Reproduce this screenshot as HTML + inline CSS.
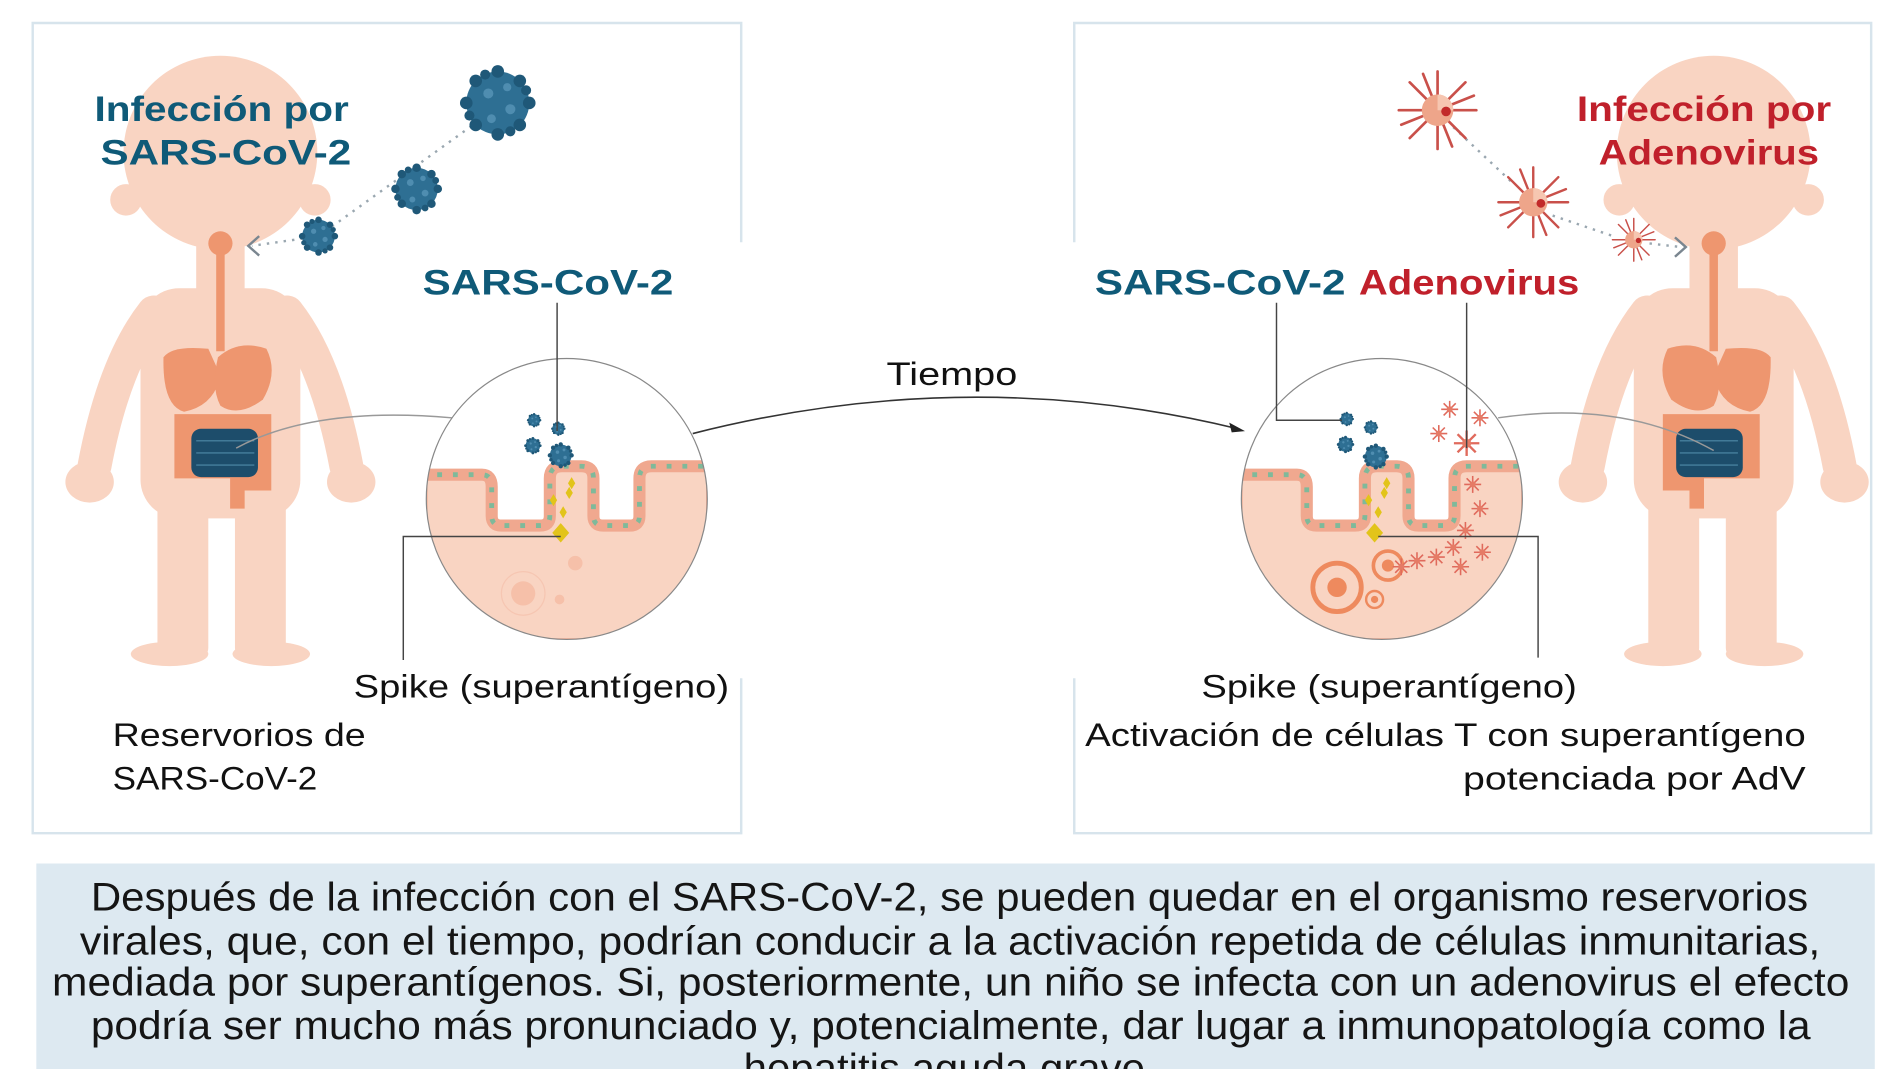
<!DOCTYPE html>
<html><head><meta charset="utf-8"><style>
html,body{margin:0;padding:0;background:#fff;}
svg{display:block;}
text{font-family:"Liberation Sans",sans-serif;}
</style></head><body>
<svg width="1899" height="1069" viewBox="0 0 1568 882.7" preserveAspectRatio="none" xmlns="http://www.w3.org/2000/svg">
<defs>
<g id="cov">
  <circle r="10" fill="#2e6f93"/>
  <g fill="#1f5878">
    <circle cx="0" cy="-10" r="2"/><circle cx="0" cy="10" r="2"/><circle cx="-10" cy="0" r="2"/><circle cx="10" cy="0" r="2"/>
    <circle cx="7" cy="7" r="2"/><circle cx="-7" cy="7" r="2"/><circle cx="7" cy="-7" r="2"/><circle cx="-7" cy="-7" r="2"/>
    <circle cx="-4" cy="-9" r="1.6"/><circle cx="4" cy="9" r="1.6"/><circle cx="9" cy="-4" r="1.6"/><circle cx="-9" cy="4" r="1.6"/>
  </g>
  <g fill="#4f8db0"><circle cx="-3" cy="-3" r="1.6"/><circle cx="4" cy="2" r="1.6"/><circle cx="-2" cy="5" r="1.4"/><circle cx="3" cy="-5" r="1.3"/></g>
</g>
<g id="adv">
  <g stroke="#c9504a" stroke-width="2.2" stroke-linecap="round">
    <line x1="0" y1="-32" x2="0" y2="32"/><line x1="-32" y1="0" x2="32" y2="0"/>
    <line x1="-23" y1="-23" x2="23" y2="23"/><line x1="-23" y1="23" x2="23" y2="-23"/>
    <line x1="-12" y1="-30" x2="12" y2="30"/><line x1="-30" y1="12" x2="30" y2="-12"/>
  </g>
  <circle r="13" fill="#eea58a"/>
  <path d="M0,-13 A13,13 0 0 1 13,0 L0,0Z" fill="#f6c6b1"/>
  <circle cx="7" cy="1" r="4" fill="#c22a2a"/>
</g>
<g id="star">
  <g stroke="#e06a5c" stroke-width="1.3"><line x1="0" y1="-7" x2="0" y2="7"/><line x1="-7" y1="0" x2="7" y2="0"/><line x1="-5" y1="-5" x2="5" y2="5"/><line x1="-5" y1="5" x2="5" y2="-5"/></g>
  <circle r="2.5" fill="#e57b66"/>
</g>
<g id="child">
  <g fill="#f9d4c2">
    <circle cx="0" cy="-4" r="80"/>
    <circle cx="-78" cy="35" r="13"/><circle cx="78" cy="35" r="13"/>
    <rect x="-20" y="60" width="40" height="60"/>
    <rect x="-66" y="108" width="132" height="190" rx="32"/>
    <rect x="-52" y="250" width="42" height="165" rx="10"/>
    <rect x="12" y="250" width="42" height="165" rx="10"/>
    <ellipse cx="-42" cy="410" rx="32" ry="10"/>
    <ellipse cx="42" cy="410" rx="32" ry="10"/>
    <ellipse cx="-108" cy="268" rx="20" ry="17"/>
    <ellipse cx="108" cy="268" rx="20" ry="17"/>
  </g>
  <g fill="none" stroke="#f9d4c2" stroke-width="28" stroke-linecap="round">
    <path d="M-55,128 Q-88,170 -104,255"/><path d="M55,128 Q88,170 104,255"/>
  </g>
  <line x1="0" y1="71" x2="0" y2="160" stroke="#ee966f" stroke-width="7"/>
  <circle cx="0" cy="71" r="10" fill="#ee966f"/>
  <path d="M-47,165 Q-40,155 -10,158 L0,180 Q-5,205 -30,210 Q-48,205 -47,165Z" fill="#ee966f"/>
  <path d="M-2,165 Q15,150 38,158 Q48,178 35,200 Q15,215 0,205 Q-8,190 -2,165Z" fill="#ee966f"/>
  <path d="M-38,212 L42,212 L42,275 L20,275 L20,290 L8,290 L8,265 L-38,265Z" fill="#ee966f"/>
  <rect x="-24" y="224" width="55" height="40" rx="8" fill="#1d4d6b"/>
  <g stroke="#4f8aa8" stroke-width="1"><line x1="-20" y1="234" x2="28" y2="234"/><line x1="-20" y1="244" x2="28" y2="244"/><line x1="-20" y1="254" x2="28" y2="254"/></g>
</g>
</defs>

<g fill="none" stroke="#d7e4ec" stroke-width="2">
  <path d="M612,200 L612,19 L27,19 L27,688 L612,688 L612,560"/>
  <path d="M887,200 L887,19 L1545,19 L1545,688 L887,688 L887,560"/>
</g>

<use href="#child" transform="translate(182,130)"/>
<use href="#child" transform="translate(1415,130) scale(-1,1)"/>

<text x="78" y="100" font-size="29" font-weight="bold" fill="#0f5a78" textLength="210" lengthAdjust="spacingAndGlyphs">Infección por</text>
<text x="83" y="136" font-size="29" font-weight="bold" fill="#0f5a78" textLength="207" lengthAdjust="spacingAndGlyphs">SARS-CoV-2</text>

<path d="M395,100 L270,190 M250,197 L208,203" stroke="#9aa7b0" stroke-width="2" stroke-dasharray="2 5" fill="none"/>
<path d="M214,195 L205,203 L214,211" stroke="#7a8690" stroke-width="2" fill="none"/>
<use href="#cov" transform="translate(411,85) scale(2.6)"/>
<use href="#cov" transform="translate(344,156) scale(1.75)"/>
<use href="#cov" transform="translate(263,195) scale(1.35)"/>

<text x="1302" y="100" font-size="29" font-weight="bold" fill="#c0202b" textLength="210" lengthAdjust="spacingAndGlyphs">Infección por</text>
<text x="1320" y="136" font-size="29" font-weight="bold" fill="#c0202b" textLength="182" lengthAdjust="spacingAndGlyphs">Adenovirus</text>
<path d="M1200,105 L1250,152 M1282,178 L1335,196 M1362,201 L1388,204" stroke="#9aa7b0" stroke-width="2" stroke-dasharray="2 5" fill="none"/>
<path d="M1383,196 L1392,204 L1383,212" stroke="#7a8690" stroke-width="2" fill="none"/>
<use href="#adv" transform="translate(1187,91)"/>
<use href="#adv" transform="translate(1266,167) scale(0.9)"/>
<use href="#adv" transform="translate(1349,198) scale(0.55)"/>

<text x="349" y="243" font-size="29" font-weight="bold" fill="#0f5a78" textLength="207" lengthAdjust="spacingAndGlyphs">SARS-CoV-2</text>
<text x="904" y="243" font-size="29" font-weight="bold" fill="#0f5a78" textLength="207" lengthAdjust="spacingAndGlyphs">SARS-CoV-2</text>
<text x="1122" y="243" font-size="29" font-weight="bold" fill="#c0202b" textLength="182" lengthAdjust="spacingAndGlyphs">Adenovirus</text>

<path d="M195,370 Q260,335 373,345" stroke="#999" stroke-width="1.2" fill="none"/>
<path d="M1237,345 Q1340,330 1415,372" stroke="#999" stroke-width="1.2" fill="none"/>

<clipPath id="cl"><circle cx="0" cy="0" r="116"/></clipPath>
<g transform="translate(468,412)">
  <g clip-path="url(#cl)">
    <rect x="-120" y="-120" width="240" height="240" fill="#fff"/>
    <path d="M-120,-20 L-70,-20 Q-62,-20 -62,-10 L-62,14 Q-62,22 -54,22 L-22,22 Q-14,22 -14,14 L-14,-17 Q-14,-27 -4,-27 L12,-27 Q22,-27 22,-17 L22,14 Q22,22 30,22 L52,22 Q60,22 60,14 L60,-17 Q60,-27 70,-27 L120,-27 L120,120 L-120,120Z" fill="#f9d4c2" stroke="#f0a88f" stroke-width="10"/>
    <path d="M-120,-20 L-70,-20 Q-62,-20 -62,-10 L-62,14 Q-62,22 -54,22 L-22,22 Q-14,22 -14,14 L-14,-17 Q-14,-27 -4,-27 L12,-27 Q22,-27 22,-17 L22,14 Q22,22 30,22 L52,22 Q60,22 60,14 L60,-17 Q60,-27 70,-27 L120,-27" fill="none" stroke="#7fb99a" stroke-width="4" stroke-dasharray="4 9"/>
    <circle cx="-36" cy="78" r="10" fill="#f6c0a9"/><circle cx="-36" cy="78" r="18" fill="none" stroke="#f6c6b2"/>
    <circle cx="7" cy="53" r="6" fill="#f6c0a9"/><circle cx="-6" cy="83" r="4" fill="#f6c0a9"/>
  </g>
  <circle r="116" fill="none" stroke="#888" stroke-width="1"/>
</g>
<g transform="translate(1141,412)">
  <g clip-path="url(#cl)">
    <rect x="-120" y="-120" width="240" height="240" fill="#fff"/>
    <path d="M-120,-20 L-70,-20 Q-62,-20 -62,-10 L-62,14 Q-62,22 -54,22 L-22,22 Q-14,22 -14,14 L-14,-17 Q-14,-27 -4,-27 L12,-27 Q22,-27 22,-17 L22,14 Q22,22 30,22 L52,22 Q60,22 60,14 L60,-17 Q60,-27 70,-27 L120,-27 L120,120 L-120,120Z" fill="#f9d4c2" stroke="#f0a88f" stroke-width="10"/>
    <path d="M-120,-20 L-70,-20 Q-62,-20 -62,-10 L-62,14 Q-62,22 -54,22 L-22,22 Q-14,22 -14,14 L-14,-17 Q-14,-27 -4,-27 L12,-27 Q22,-27 22,-17 L22,14 Q22,22 30,22 L52,22 Q60,22 60,14 L60,-17 Q60,-27 70,-27 L120,-27" fill="none" stroke="#7fb99a" stroke-width="4" stroke-dasharray="4 9"/>
    <circle cx="-37" cy="73" r="20" fill="none" stroke="#ee8a5e" stroke-width="4"/><circle cx="-37" cy="73" r="8" fill="#ee8a5e"/>
    <circle cx="5" cy="55" r="12" fill="none" stroke="#ee8a5e" stroke-width="3"/><circle cx="5" cy="55" r="5" fill="#ee8a5e"/>
    <circle cx="-6" cy="83" r="7" fill="none" stroke="#ee8a5e" stroke-width="2"/><circle cx="-6" cy="83" r="3" fill="#ee8a5e"/>
  </g>
  <circle r="116" fill="none" stroke="#888" stroke-width="1"/>
</g>

<use href="#cov" transform="translate(441,347) scale(0.5)"/>
<use href="#cov" transform="translate(461,354) scale(0.5)"/>
<use href="#cov" transform="translate(440,368) scale(0.6)"/>
<use href="#cov" transform="translate(463,376) scale(0.9)"/>
<use href="#cov" transform="translate(1112,346) scale(0.5)"/>
<use href="#cov" transform="translate(1132,353) scale(0.5)"/>
<use href="#cov" transform="translate(1111,367) scale(0.6)"/>
<use href="#cov" transform="translate(1136,377) scale(0.9)"/>
<g fill="#e2c41a">
  <path d="M463,432 l7,8 l-7,8 l-7,-8Z"/><path d="M457,408 l3,5 l-3,5 l-3,-5Z"/><path d="M470,402 l3,5 l-3,5 l-3,-5Z"/><path d="M465,418 l3,5 l-3,5 l-3,-5Z"/><path d="M472,394 l3,5 l-3,5 l-3,-5Z"/>
  <path d="M1135,432 l7,8 l-7,8 l-7,-8Z"/><path d="M1130,408 l3,5 l-3,5 l-3,-5Z"/><path d="M1143,402 l3,5 l-3,5 l-3,-5Z"/><path d="M1138,418 l3,5 l-3,5 l-3,-5Z"/><path d="M1145,394 l3,5 l-3,5 l-3,-5Z"/>
</g>
<g>
  <use href="#star" transform="translate(1197,338)"/><use href="#star" transform="translate(1222,345)"/>
  <use href="#star" transform="translate(1188,358)"/><use href="#star" transform="translate(1211,366) scale(1.5)"/>
  <use href="#star" transform="translate(1216,400)"/><use href="#star" transform="translate(1222,420)"/>
  <use href="#star" transform="translate(1210,438)"/><use href="#star" transform="translate(1200,452)"/>
  <use href="#star" transform="translate(1224,456)"/><use href="#star" transform="translate(1186,460)"/>
  <use href="#star" transform="translate(1170,463)"/><use href="#star" transform="translate(1157,468)"/>
  <use href="#star" transform="translate(1206,468)"/>
</g>

<g stroke="#444" stroke-width="1.2" fill="none">
  <path d="M460,250 L460,356"/>
  <path d="M333,545 L333,443 L463,443"/>
  <path d="M1054,250 L1054,347 L1108,347"/>
  <path d="M1211,250 L1211,370"/>
  <path d="M1138,443 L1270,443 L1270,543"/>
</g>

<text x="732" y="318" font-size="27" fill="#111" textLength="108" lengthAdjust="spacingAndGlyphs">Tiempo</text>
<path d="M572,358 Q800,300 1022,354" stroke="#333" stroke-width="1.3" fill="none"/>
<path d="M1028,356 L1015,349 L1017,357Z" fill="#222"/>

<g font-size="27" fill="#111">
  <text x="292" y="576" textLength="310" lengthAdjust="spacingAndGlyphs">Spike (superantígeno)</text>
  <text x="93" y="616" textLength="209" lengthAdjust="spacingAndGlyphs">Reservorios de</text>
  <text x="93" y="652" textLength="169" lengthAdjust="spacingAndGlyphs">SARS-CoV-2</text>
  <text x="992" y="576" textLength="310" lengthAdjust="spacingAndGlyphs">Spike (superantígeno)</text>
  <text x="896" y="616" textLength="595" lengthAdjust="spacingAndGlyphs">Activación de células T con superantígeno</text>
  <text x="1208" y="652" textLength="283" lengthAdjust="spacingAndGlyphs">potenciada por AdV</text>
</g>

<rect x="30" y="713" width="1518" height="172" fill="#dde9f1"/>
<g font-size="33" fill="#151515">
  <text x="75" y="752" textLength="1418" lengthAdjust="spacingAndGlyphs">Después de la infección con el SARS-CoV-2, se pueden quedar en el organismo reservorios</text>
  <text x="66" y="788" textLength="1437" lengthAdjust="spacingAndGlyphs">virales, que, con el tiempo, podrían conducir a la activación repetida de células inmunitarias,</text>
  <text x="43" y="822" textLength="1484" lengthAdjust="spacingAndGlyphs">mediada por superantígenos. Si, posteriormente, un niño se infecta con un adenovirus el efecto</text>
  <text x="75" y="858" textLength="1420" lengthAdjust="spacingAndGlyphs">podría ser mucho más pronunciado y, potencialmente, dar lugar a inmunopatología como la</text>
  <text x="614" y="893" textLength="341" lengthAdjust="spacingAndGlyphs">hepatitis aguda grave.</text>
</g>
</svg>
</body></html>
